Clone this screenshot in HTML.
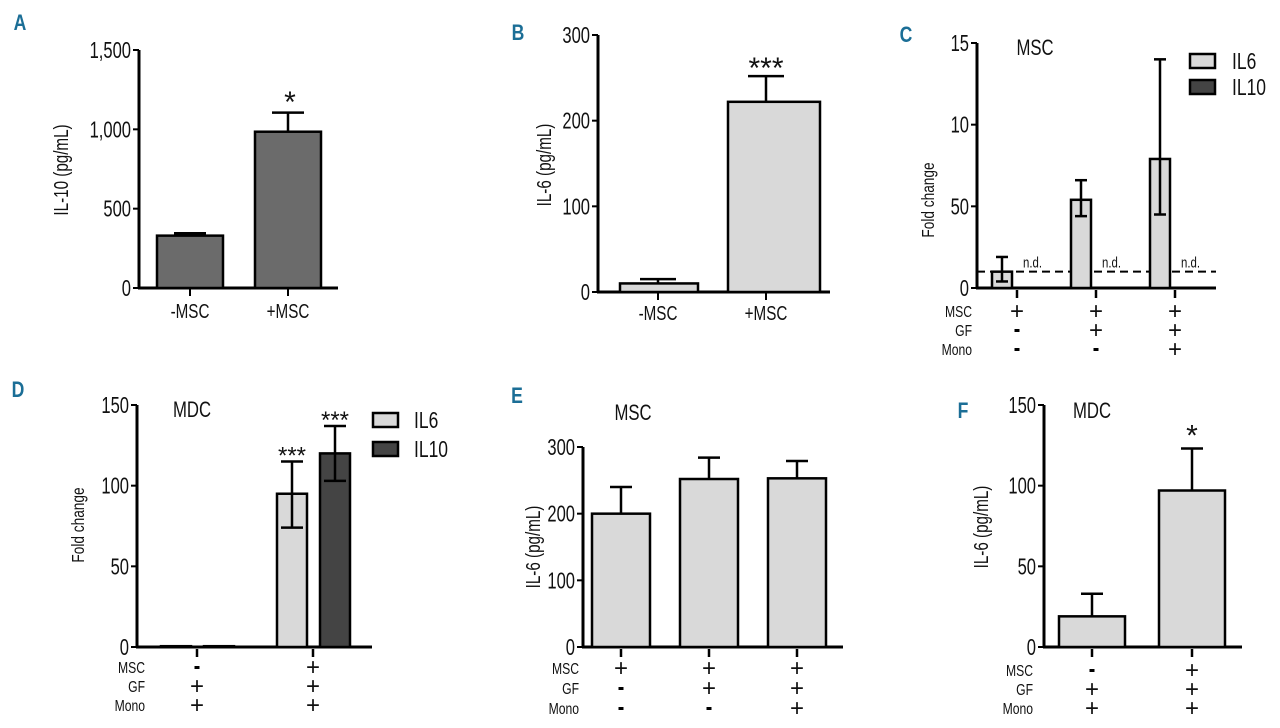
<!DOCTYPE html>
<html><head><meta charset="utf-8"><style>
body{margin:0;background:#fff;width:1280px;height:728px;overflow:hidden}
svg{display:block}
text{font-family:"Liberation Sans Narrow","Liberation Sans",sans-serif;fill:#111}
.pl{font-family:"Liberation Sans",sans-serif;font-weight:bold;fill:#1b6e96;font-size:22px}
</style></head><body>
<svg id="fig" width="1280" height="728"></svg>
<script>
// Panel A
const aCats=["-MSC","+MSC"], aVals=[330,985], aErr=[345,1105], aTicks=[0,500,1000,1500], aTickLabels=["0","500","1,000","1,500"];
// Panel B
const bCats=["-MSC","+MSC"], bVals=[10,222], bErr=[15,252], bTicks=[0,100,200,300], bTickLabels=["0","100","200","300"];
// Panel C
const cIL6=[1.0,5.4,7.9], cErrLo=[0.4,4.4,4.5], cErrHi=[1.9,6.6,14], cTicks=[0,5,10,15], cTickLabels=["0","50","10","15"];
const cMSC=["+","+","+"], cGF=["-","+","+"], cMono=["-","-","+"];
// Panel D
const dIL6=[0.5,95], dIL10=[0.5,120], dIL6Err=[null,[74,115]], dIL10Err=[null,[103,137]], dTicks=[0,50,100,150], dTickLabels=["0","50","100","150"];
const dMSC=["-","+"], dGF=["+","+"], dMono=["+","+"];
// Panel E
const eVals=[200,252,253], eErr=[240,284,279], eTicks=[0,100,200,300], eTickLabels=["0","100","200","300"];
const eMSC=["+","+","+"], eGF=["-","+","+"], eMono=["-","-","+"];
// Panel F
const fVals=[19,97], fErr=[33,123], fTicks=[0,50,100,150], fTickLabels=["0","50","100","150"];
const fMSC=["-","+"], fGF=["+","+"], fMono=["+","+"];

const svg=document.getElementById('fig');
const NS='http://www.w3.org/2000/svg';
const SX=0.76;
function el(tag,attrs,txt){const e=document.createElementNS(NS,tag);for(const k in attrs)e.setAttribute(k,attrs[k]);if(txt!==undefined)e.textContent=txt;svg.appendChild(e);return e;}
function scale(v0,v1,p0,p1){return v=>p0+(v-v0)*(p1-p0)/(v1-v0);}
function txt(x,y,s,fs,anchor,name,rot,sx){
  const k=sx||SX;
  const tr=rot?'translate('+x+' '+y+') rotate(-90) scale('+k+' 1)':'translate('+x+' '+y+') scale('+k+' 1)';
  const t=el('text',{x:0,y:0,'font-size':fs,'text-anchor':anchor||'middle',transform:tr},s);
  return t;
}
function axes(ax,y,x0,x1,ymin,ymax,ticks,labels){
  let e=el('line',{x1:ax,y1:y(ymax),x2:ax,y2:y(ymin)+1,stroke:'#000','stroke-width':3});
  
  e=el('line',{x1:ax-1,y1:y(ymin),x2:x1,y2:y(ymin),stroke:'#000','stroke-width':3});
  
  ticks.forEach((t,i)=>{
    el('line',{x1:ax-6,y1:y(t),x2:ax,y2:y(t),stroke:'#000','stroke-width':2});
    txt(ax-8,y(t)+8,labels[i],23,'end','y-tick-label',false,0.72);
  });
}
function bar(x,w,y,v,base,fill,name){
  const r=el('rect',{x:x,y:y(v),width:w,height:Math.max(y(base)-y(v),1),fill:fill,stroke:'#000','stroke-width':2.5});
  
}
function err(cx,y,lo,hi,cap,name){
  const a=el('line',{x1:cx,y1:y(hi),x2:cx,y2:y(lo),stroke:'#000','stroke-width':2.5});
  el('line',{x1:cx-cap,y1:y(hi),x2:cx+cap,y2:y(hi),stroke:'#000','stroke-width':2.5});
  
}
function errBoth(cx,y,lo,hi,cap,name){
  err(cx,y,lo,hi,cap,name);
  el('line',{x1:cx-cap,y1:y(lo),x2:cx+cap,y2:y(lo),stroke:'#000','stroke-width':2.5});
}
function rows(labX,xs,rowY,arrs,tickY){
  const names=["MSC","GF","Mono"];
  names.forEach((n,i)=>{
    txt(labX,rowY[i]+6,n,16,'end','row-label-'+n.toLowerCase());
    arrs[i].forEach((s,j)=>{
      if(s=="+"){txt(xs[j],rowY[i]+8,"+",24,'middle','condition-plus',false,1);}
      else{const r=el('rect',{x:xs[j]-2.5,y:rowY[i]-1,width:5,height:3,fill:'#000'});
        }
    });
  });
  xs.forEach(x=>el('line',{x1:x,y1:tickY,x2:x,y2:tickY+8,stroke:'#000','stroke-width':2.5}));
}
function legend(x,y1,y2,tx){
  let r=el('rect',{x:x,y:y1,width:25,height:14,fill:'#d9d9d9',stroke:'#000','stroke-width':2.5});
  
  r=el('rect',{x:x,y:y2,width:25,height:14,fill:'#444',stroke:'#000','stroke-width':2.5});
  
  txt(tx,y1+15,"IL6",23,'start','legend-entry-il6');
  txt(tx,y2+15,"IL10",23,'start','legend-entry-il10');
}
function plabel(x,y,s,name){const t=txt(x,y,s,22,'middle',name,false,0.8);t.setAttribute('class','pl');}
const LG='#d9d9d9', DG='#6b6b6b', DK='#444';

// ---- A ----
plabel(20,30,"A",'panel-label-a');
{const y=scale(0,1500,288,50);axes(139,y,139,338,0,1500,aTicks,aTickLabels);
 const xs=[190,288];
 aVals.forEach((v,i)=>{err(xs[i],y,v,aErr[i],16,'error-bar');bar(xs[i]-33,66,y,v,0,DG,'bar-'+aCats[i]);
   el('line',{x1:xs[i],y1:288,x2:xs[i],y2:296,stroke:'#000','stroke-width':2});
   txt(xs[i],318,aCats[i],20,'middle','x-tick-label');});
 txt(290,112,"*",30,'middle','significance-star',false,1);
 txt(68,170,"IL-10 (pg/mL)",20,'middle','y-axis-title',true);}

// ---- B ----
plabel(518,40,"B",'panel-label-b');
{const y=scale(0,300,292,35);axes(598,y,598,830,0,300,bTicks,bTickLabels);
 const xs=[658,766];
 bVals.forEach((v,i)=>{err(xs[i],y,v,bErr[i],18,'error-bar');bar(xs[i]-38,i?92:78,y,v,0,LG,'bar-'+bCats[i]);
   el('line',{x1:xs[i],y1:292,x2:xs[i],y2:300,stroke:'#000','stroke-width':2});
   txt(xs[i],320,bCats[i],20,'middle','x-tick-label');});
 txt(766,78,"***",30,'middle','significance-star',false,1);
 txt(551,165,"IL-6 (pg/mL)",20,'middle','y-axis-title',true);}

// ---- C ----
plabel(906,42,"C",'panel-label-c');
{const y=scale(0,15,288,43);axes(977,y,977,1216,0,15,cTicks,cTickLabels);
 const xs=[1017,1096,1175];
 const dl=el('line',{x1:977,y1:y(1),x2:1216,y2:y(1),stroke:'#000','stroke-width':2,'stroke-dasharray':'8,5'});
 
 cIL6.forEach((v,i)=>{bar(xs[i]-25,20,y,v,0,LG,'bar-il6');errBoth(xs[i]-15,y,cErrLo[i],cErrHi[i],6,'error-bar');
   txt(xs[i]+6,y(1)-4,"n.d.",15,'start','not-detected-label');});
 rows(972,xs,[311,330,349],[cMSC,cGF,cMono],290);
 txt(1035,55,"MSC",22,'middle','panel-title');
 legend(1190,54,80,1232);
 txt(934,200,"Fold change",18,'middle','y-axis-title',true);}

// ---- D ----
plabel(18,397,"D",'panel-label-d');
{const y=scale(0,150,647,405);axes(137,y,137,372,0,150,dTicks,dTickLabels);
 const xs=[197,313];
 dIL6.forEach((v,i)=>{
   bar(xs[i]-36,30,y,v,0,LG,'bar-il6');bar(xs[i]+7,30,y,dIL10[i],0,DK,'bar-il10');
   if(dIL6Err[i]){errBoth(xs[i]-21,y,dIL6Err[i][0],dIL6Err[i][1],11,'error-bar');
     errBoth(xs[i]+22,y,dIL10Err[i][0],dIL10Err[i][1],11,'error-bar');
     txt(xs[i]-21,y(dIL6Err[i][1])+2,"***",24,'middle','significance-star',false,1);
     txt(xs[i]+22,y(dIL10Err[i][1])+2,"***",24,'middle','significance-star',false,1);}
 });
 rows(145,xs,[667,686,705],[dMSC,dGF,dMono],649);
 txt(192,417,"MDC",22,'middle','panel-title');
 legend(373,413,442,414);
 txt(84,525,"Fold change",18,'middle','y-axis-title',true);}

// ---- E ----
plabel(517,403,"E",'panel-label-e');
{const y=scale(0,300,647,447);axes(583,y,583,843,0,300,eTicks,eTickLabels);
 const xs=[621,709,797];
 eVals.forEach((v,i)=>{err(xs[i],y,v,eErr[i],11,'error-bar');bar(xs[i]-29,58,y,v,0,LG,'bar-il6');});
 rows(579,xs,[668,688,708],[eMSC,eGF,eMono],649);
 txt(633,420,"MSC",22,'middle','panel-title');
 txt(540,547,"IL-6 (pg/mL)",20,'middle','y-axis-title',true);}

// ---- F ----
plabel(963,418,"F",'panel-label-f');
{const y=scale(0,150,647,405);axes(1044,y,1044,1242,0,150,fTicks,fTickLabels);
 const xs=[1092,1192];
 fVals.forEach((v,i)=>{err(xs[i],y,v,fErr[i],11,'error-bar');bar(xs[i]-33,66,y,v,0,LG,'bar-il6');});
 txt(1192,y(fErr[1])-3,"*",30,'middle','significance-star',false,1);
 rows(1033,xs,[670,689,708],[fMSC,fGF,fMono],649);
 txt(1092,418,"MDC",22,'middle','panel-title');
 txt(988,527,"IL-6 (pg/mL)",20,'middle','y-axis-title',true);}
</script>
</body></html>
